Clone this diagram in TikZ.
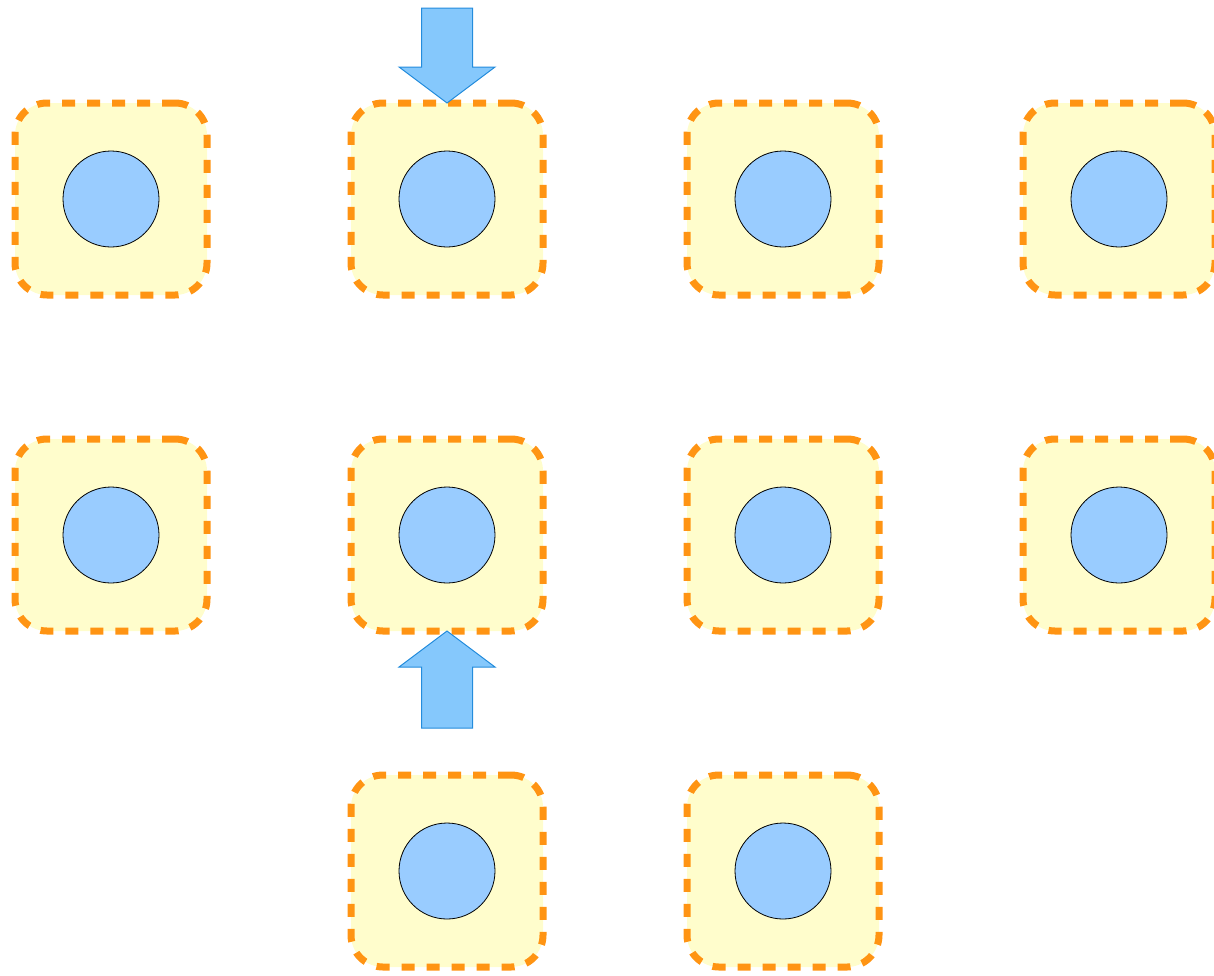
\documentclass[tikz,border=0pt]{standalone}
\definecolor{boxfill}{RGB}{255,253,204}
\definecolor{boxline}{RGB}{255,148,19}
\definecolor{cellfill}{RGB}{153,204,255}
\definecolor{arrfill}{RGB}{133,200,252}
\definecolor{arrline}{RGB}{36,140,220}
\begin{document}
\begin{tikzpicture}[x=1pt,y=-1pt,
  cellbox/.style={draw=boxline, fill=boxfill, line width=7pt, dash pattern=on 13pt off 12pt,
    rounded corners=32pt, minimum width=192pt, minimum height=192pt, inner sep=0pt, outer sep=0pt},
  cell/.style={draw=black, fill=cellfill, line width=0.8pt, circle, minimum size=96pt, inner sep=0pt},
  bigarrow/.style={draw=arrline, fill=arrfill, line width=1pt, line join=miter}]
\useasboundingbox (0,0) rectangle (1214,975);
% row 1
\node[cellbox] (b11) at (111,199) {};
\node[cellbox] (b12) at (447,199) {};
\node[cellbox] (b13) at (783,199) {};
\node[cellbox] (b14) at (1119,199) {};
% row 2
\node[cellbox] (b21) at (111,535) {};
\node[cellbox] (b22) at (447,535) {};
\node[cellbox] (b23) at (783,535) {};
\node[cellbox] (b24) at (1119,535) {};
% row 3
\node[cellbox] (b32) at (447,871) {};
\node[cellbox] (b33) at (783,871) {};
% circles
\foreach \b in {b11,b12,b13,b14,b21,b22,b23,b24,b32,b33}
  \node[cell] (c\b) at (\b.center) {};
% arrows
\draw[bigarrow] (b12.north) -- ++(-48,-36) -- ++(22.5,0) -- ++(0,-59) -- ++(51,0) -- ++(0,59) -- ++(22.5,0) -- cycle;
\draw[bigarrow] (b22.south) -- ++(-48,36) -- ++(22.5,0) -- ++(0,61) -- ++(51,0) -- ++(0,-61) -- ++(22.5,0) -- cycle;
\end{tikzpicture}
\end{document}
